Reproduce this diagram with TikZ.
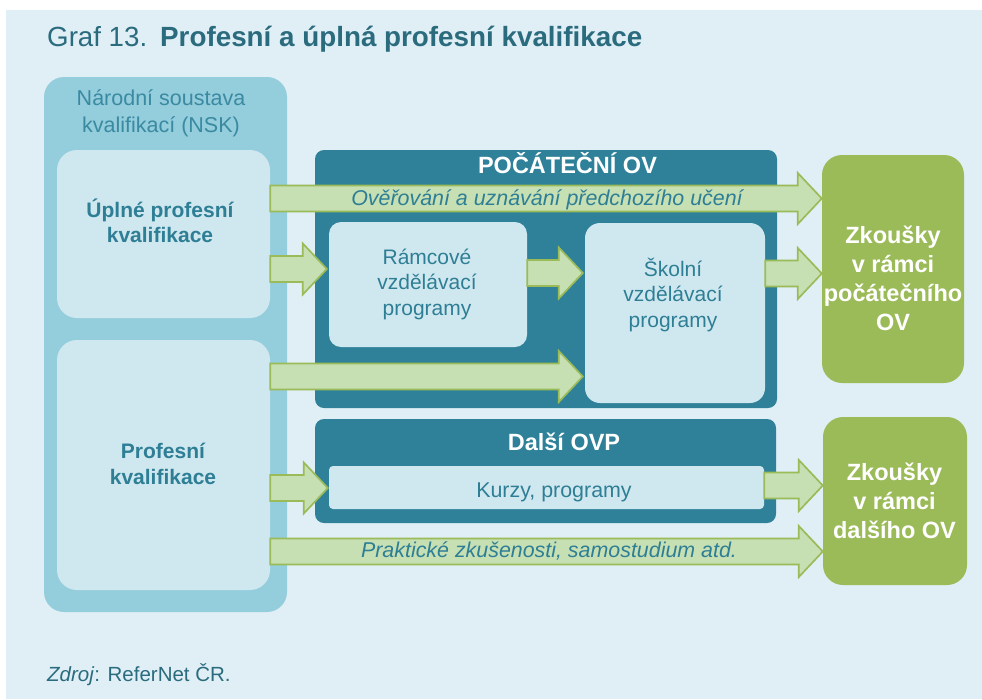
\documentclass[tikz,border=0pt]{standalone}
\usepackage{fontspec}
\setmainfont{Liberation Sans}
\usetikzlibrary{calc}
\definecolor{bgblue}{HTML}{E0EFF5}
\definecolor{nskblue}{HTML}{94CDDC}
\definecolor{paleblue}{HTML}{CFE8EF}
\definecolor{tealbox}{HTML}{2E8199}
\definecolor{titletxt}{HTML}{2A6B7E}
\definecolor{bodytxt}{HTML}{2E7E95}
\definecolor{nsktxt}{HTML}{3A8AA2}
\definecolor{arrowfill}{HTML}{C6E0B4}
\definecolor{arrowline}{HTML}{9BBB59}
\definecolor{greenbox}{HTML}{9BBB59}
\begin{document}
\begin{tikzpicture}[x=1pt,y=-1pt,
  box/.style={rectangle, inner sep=0pt, draw=none},
  txt/.style={inner sep=0pt, align=center, anchor=base, text=bodytxt, font=\fontsize{21}{25.5}\selectfont},
  btxt/.style={txt, font=\fontsize{21}{25}\selectfont\bfseries},
  whitetxt/.style={txt, text=white, font=\fontsize{23.5}{26}\selectfont\bfseries},
  greentxt/.style={txt, text=white, font=\fontsize{23.5}{29}\selectfont\bfseries},
  itxt/.style={txt, font=\fontsize{21.4}{25}\selectfont\itshape},
  barrow/.style={draw=arrowline, fill=arrowfill, line width=1.7pt, line join=miter,
    to path={let \p1=(\tikztostart), \p2=(\tikztotarget) in
      (\x1,\y1+13pt) -- (\x2-24pt,\y1+13pt) -- (\x2-24pt,\y1+25.5pt) -- (\x2,\y1)
      -- (\x2-24pt,\y1-25.5pt) -- (\x2-24pt,\y1-13pt) -- (\x1,\y1-13pt) -- cycle}}
]
\useasboundingbox (0,0) rectangle (982,699);
\fill[white] (0,0) rectangle (982,699);
\fill[bgblue] (6,10) rectangle (982,699);

% title
\node[anchor=base west, inner sep=0pt, text=titletxt, font=\fontsize{27.7}{30}\selectfont] (graf) at (47,46) {Graf 13.};
\node[anchor=base west, inner sep=0pt, text=titletxt, font=\fontsize{27.8}{30}\selectfont\bfseries] (title) at (160,46) {Profesní a úplná profesní kvalifikace};

% left panel (multi-line labels are anchored at the baseline of their last line)
\node[box, fill=nskblue, rounded corners=20pt, minimum width=243pt, minimum height=535pt] (nsk) at (165.5,344.5) {};
\node[txt, text=nsktxt, font=\fontsize{21.5}{27}\selectfont] (nsklab) at (161,132) {Národní soustava\\kvalifikací (NSK)};
\node[box, fill=paleblue, rounded corners=20pt, minimum width=213pt, minimum height=168pt] (upl) at (163.5,234) {};
\node[btxt] (upllab) at (160,242) {Úplné profesní\\kvalifikace};
\node[box, fill=paleblue, rounded corners=20pt, minimum width=213pt, minimum height=250pt] (prof) at (163.5,465) {};
\node[btxt, font=\fontsize{21}{26}\selectfont\bfseries] (proflab) at (163,484) {Profesní\\kvalifikace};

% initial VET
\node[box, fill=tealbox, rounded corners=9pt, minimum width=462pt, minimum height=258pt] (poc) at (546,279) {};
\node[whitetxt] (poclab) at (567.5,173) {POČÁTEČNÍ OV};
\node[box, fill=paleblue, rounded corners=12pt, minimum width=198pt, minimum height=125pt] (ram) at (428,284.5) {};
\node[txt] (ramlab) at (427,315) {Rámcové\\vzdělávací\\programy};
\node[box, fill=paleblue, rounded corners=15pt, minimum width=180pt, minimum height=180pt] (skol) at (675,313) {};
\node[txt] (skollab) at (673,327) {Školní\\vzdělávací\\programy};

% further VET
\node[box, fill=tealbox, rounded corners=9pt, minimum width=461pt, minimum height=104pt] (dal) at (545.5,471) {};
\node[whitetxt] (dallab) at (564,450) {Další OVP};
\node[box, fill=paleblue, rounded corners=4pt, minimum width=435pt, minimum height=43pt] (kurzy) at (546.5,487.5) {};
\node[txt, font=\fontsize{21.4}{25}\selectfont] (kurzylab) at (554,497) {Kurzy, programy};

% exams
\node[box, fill=greenbox, rounded corners=20pt, minimum width=142pt, minimum height=228pt] (zk1) at (893,269) {};
\node[greentxt] (zk1lab) at (893,330) {Zkoušky\\v rámci\\počátečního\\OV};
\node[box, fill=greenbox, rounded corners=20pt, minimum width=144pt, minimum height=168pt] (zk2) at (895,501) {};
\node[greentxt] (zk2lab) at (894.5,538) {Zkoušky\\v rámci\\dalšího OV};

% arrow levels
\coordinate (ya1) at (0,198.5);
\coordinate (ya2) at (0,269);
\coordinate (ya3) at (0,273);
\coordinate (ya4) at (0,273.5);
\coordinate (ya5) at (0,376.5);
\coordinate (ya6) at (0,488);
\coordinate (ya7) at (0,485.5);
\coordinate (ya8) at (0,551.5);

\path[barrow] (upl.east |- ya1) to (zk1.west |- ya1);
\path[barrow] (upl.east |- ya2) to ($(ram.west |- ya2)+(-2,0)$);
\path[barrow] (ram.east |- ya3) to ($(skol.west |- ya3)+(-2,0)$);
\path[barrow] (skol.east |- ya4) to (zk1.west |- ya4);
\path[barrow] (prof.east |- ya5) to ($(skol.west |- ya5)+(-2,0)$);
\path[barrow] (prof.east |- ya6) to ($(kurzy.west |- ya6)+(-1,0)$);
\path[barrow] (kurzy.east |- ya7) to (zk2.west |- ya7);
\path[barrow] (prof.east |- ya8) to (zk2.west |- ya8);

\node[itxt] (overlab) at (547,205) {Ověřování a uznávání předchozího učení};
\node[itxt] (praklab) at (549,557) {Praktické zkušenosti, samostudium atd.};

% source
\node[anchor=base west, inner sep=0pt, text=titletxt, font=\fontsize{20.5}{24}\selectfont] (zdroj) at (47,681) {\textit{Zdroj}: ReferNet ČR.};
\end{tikzpicture}
\end{document}
